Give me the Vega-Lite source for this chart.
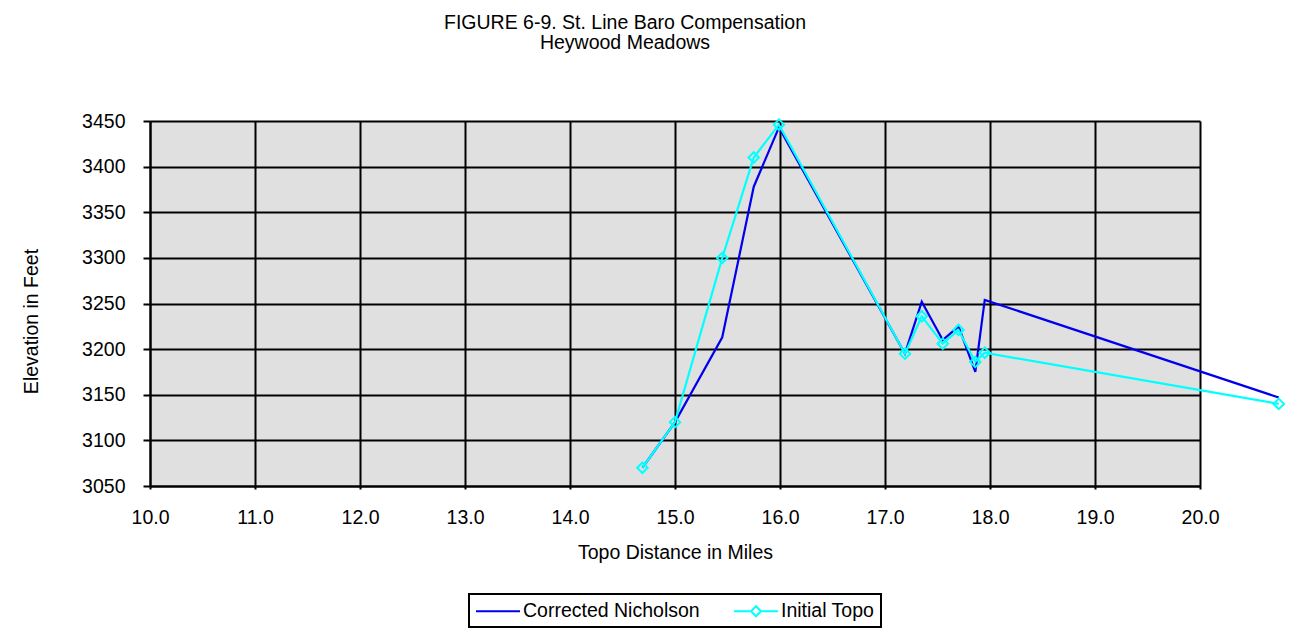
{
  "$schema": "https://vega.github.io/schema/vega-lite/v6.json",
  "width": 1050,
  "height": 365,
  "autosize": {"type": "none"},
  "padding": {"left": 150, "top": 121, "right": 91, "bottom": 148},
  "background": "white",
  "title": {
    "text": "FIGURE 6-9. St. Line Baro Compensation",
    "subtitle": "Heywood Meadows",
    "anchor": "middle",
    "dx": -50,
    "offset": 58,
    "font": "Liberation Sans",
    "subtitleFont": "Liberation Sans",
    "fontSize": 19.5,
    "subtitleFontSize": 19.5,
    "fontWeight": "normal",
    "color": "black",
    "subtitleColor": "black",
    "subtitlePadding": 0
  },
  "data": {
    "values": [
      {"distance": 14.69, "elevation": 3070, "series": "Corrected Nicholson"},
      {"distance": 15.0, "elevation": 3120, "series": "Corrected Nicholson"},
      {"distance": 15.45, "elevation": 3213, "series": "Corrected Nicholson"},
      {"distance": 15.75, "elevation": 3378, "series": "Corrected Nicholson"},
      {"distance": 15.99, "elevation": 3443, "series": "Corrected Nicholson"},
      {"distance": 17.19, "elevation": 3195, "series": "Corrected Nicholson"},
      {"distance": 17.35, "elevation": 3252, "series": "Corrected Nicholson"},
      {"distance": 17.55, "elevation": 3210, "series": "Corrected Nicholson"},
      {"distance": 17.7, "elevation": 3225, "series": "Corrected Nicholson"},
      {"distance": 17.86, "elevation": 3175, "series": "Corrected Nicholson"},
      {"distance": 17.95, "elevation": 3254, "series": "Corrected Nicholson"},
      {"distance": 20.75, "elevation": 3147, "series": "Corrected Nicholson"},
      {"distance": 14.69, "elevation": 3070, "series": "Initial Topo"},
      {"distance": 15.0, "elevation": 3120, "series": "Initial Topo"},
      {"distance": 15.45, "elevation": 3300, "series": "Initial Topo"},
      {"distance": 15.75, "elevation": 3410, "series": "Initial Topo"},
      {"distance": 15.99, "elevation": 3446, "series": "Initial Topo"},
      {"distance": 17.19, "elevation": 3195, "series": "Initial Topo"},
      {"distance": 17.35, "elevation": 3236, "series": "Initial Topo"},
      {"distance": 17.55, "elevation": 3206, "series": "Initial Topo"},
      {"distance": 17.7, "elevation": 3221, "series": "Initial Topo"},
      {"distance": 17.86, "elevation": 3186, "series": "Initial Topo"},
      {"distance": 17.95, "elevation": 3196, "series": "Initial Topo"},
      {"distance": 20.75, "elevation": 3140, "series": "Initial Topo"}
    ]
  },
  "layer": [
    {
      "mark": {"type": "line", "strokeWidth": 2.2, "clip": false},
      "encoding": {
        "x": {
          "field": "distance", "type": "quantitative",
          "scale": {"domain": [10, 20], "nice": false, "zero": false},
          "axis": {
            "title": "Topo Distance in Miles",
            "values": [10, 11, 12, 13, 14, 15, 16, 17, 18, 19, 20],
            "format": ".1f",
            "tickSize": 3,
            "labelPadding": 19,
            "titlePadding": 17,
            "labelFlush": false
          }
        },
        "y": {
          "field": "elevation", "type": "quantitative",
          "scale": {"domain": [3050, 3450], "nice": false, "zero": false},
          "axis": {
            "title": "Elevation in Feet",
            "values": [3050, 3100, 3150, 3200, 3250, 3300, 3350, 3400, 3450],
            "format": "d",
            "tickSize": 7,
            "labelPadding": 18,
            "titlePadding": 40,
            "titleY": 200
          }
        },
        "color": {
          "field": "series", "type": "nominal",
          "scale": {"domain": ["Corrected Nicholson", "Initial Topo"], "range": ["#0000ee", "#00ffff"]},
          "legend": {
            "title": null,
            "orient": "bottom",
            "direction": "horizontal",
            "offset": 32,
            "symbolSize": 400,
            "symbolStrokeWidth": 2,
            "labelOffset": 26,
            "labelLimit": 0,
            "columnPadding": 30,
            "padding": 6,
            "strokeColor": "black",
            "fillColor": "white",
            "encode": {
              "symbols": {
                "update": {
                  "shape": {"signal": "datum.value === 'Initial Topo' ? 'M-1,0H0.7M1.7,0H3.4M1.2,-0.5L1.7,0L1.2,0.5L0.7,0Z' : 'M-1,0H3.4'"},
                  "fill": {"value": "transparent"},
                  "strokeWidth": {"value": 2}
                }
              },
              "legend": {
                "update": {"strokeWidth": {"value": 2}}
              }
            }
          }
        }
      }
    },
    {
      "transform": [{"filter": "datum.series === 'Initial Topo'"}],
      "mark": {"type": "point", "shape": "diamond", "filled": false, "size": 110, "strokeWidth": 2, "opacity": 1, "clip": false},
      "encoding": {
        "x": {"field": "distance", "type": "quantitative"},
        "y": {"field": "elevation", "type": "quantitative"},
        "color": {"field": "series", "type": "nominal"}
      }
    }
  ],
  "config": {
    "view": {"fill": "#e0e0e0", "stroke": null},
    "axis": {
      "labelFont": "Liberation Sans",
      "titleFont": "Liberation Sans",
      "labelFontSize": 19.5,
      "titleFontSize": 19.5,
      "labelColor": "black",
      "titleColor": "black",
      "titleFontWeight": "normal",
      "domainColor": "black",
      "domainWidth": 2,
      "tickColor": "black",
      "tickWidth": 2,
      "grid": true,
      "gridColor": "black",
      "gridWidth": 2,
      "gridOpacity": 1,
      "labelOverlap": false,
      "labelBound": false
    },
    "legend": {
      "labelFont": "Liberation Sans",
      "labelFontSize": 19.5,
      "labelColor": "black",
      "layout": {"bottom": {"anchor": "middle"}}
    }
  }
}
